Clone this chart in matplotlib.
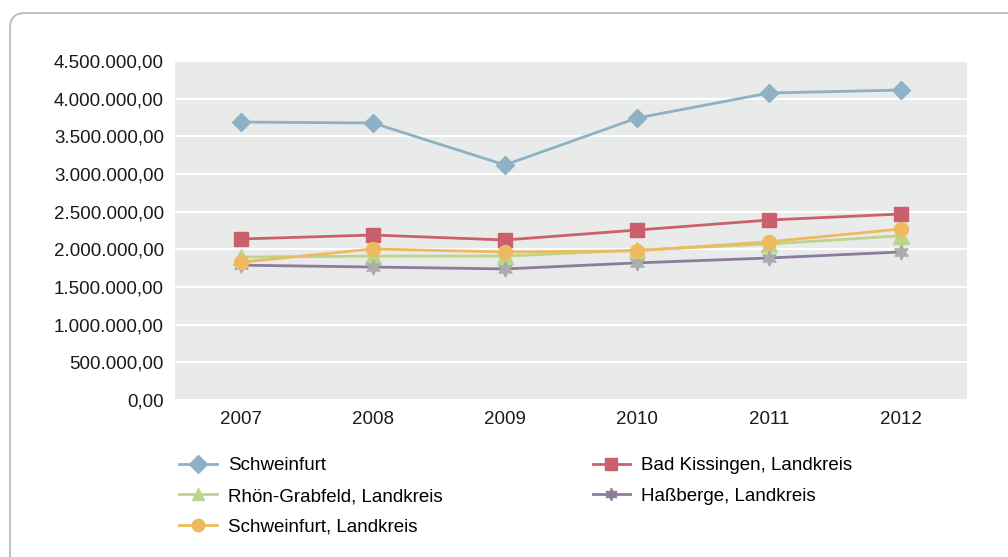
import matplotlib.pyplot as plt
from matplotlib.patches import FancyBboxPatch
from matplotlib.ticker import FuncFormatter
from matplotlib.lines import Line2D

plt.rcParams['font.family'] = ['Liberation Sans', 'DejaVu Sans']

years = [2007, 2008, 2009, 2010, 2011, 2012]
schweinfurt = [3690000, 3677000, 3120000, 3743000, 4075000, 4115000]
bad_kissingen = [2137000, 2190000, 2124000, 2256000, 2389000, 2469000]
rhoen_grabfeld = [1898000, 1910000, 1910000, 1990000, 2070000, 2180000]
schweinfurt_lk = [1830000, 2005000, 1965000, 1980000, 2100000, 2270000]
hassberge = [1790000, 1765000, 1740000, 1820000, 1885000, 1965000]

labels = ['Schweinfurt', 'Bad Kissingen, Landkreis', 'Rhön-Grabfeld, Landkreis',
          'Haßberge, Landkreis', 'Schweinfurt, Landkreis']

fig = plt.figure(figsize=(10.08, 5.57), dpi=100)
ax = fig.add_axes([175 / 1008, 1 - 400 / 557, (967 - 175) / 1008, (400 - 61) / 557])

# rahmen
frame = FancyBboxPatch((10 / 1008, -0.1), 1.2, 1 - 13 / 557 + 0.1,
                       boxstyle='round,pad=0,rounding_size=0.015',
                       transform=fig.transFigure, facecolor='white',
                       edgecolor='#a9b8c2', linewidth=1.2, zorder=-10,
                       mutation_aspect=1008 / 557)
fig.patches.append(frame)

ax.set_facecolor('#e9ebea')
for s in ax.spines.values():
    s.set_visible(False)

x = list(range(len(years)))
l1, = ax.plot(x, schweinfurt, color='#8fb1c5', lw=2, marker='D', ms=9, zorder=3)
l2, = ax.plot(x, bad_kissingen, color='#c9606c', lw=2, marker='s', ms=10, zorder=3)
l3, = ax.plot(x, rhoen_grabfeld, color='#bdd48b', lw=2, marker='^', ms=11, zorder=3)
l5, = ax.plot(x, schweinfurt_lk, color='#edba5f', lw=2, marker='o', ms=10, zorder=4)
l4, = ax.plot(x, hassberge, color='#8d7b9b', lw=2, marker=(6, 1, 0), ms=11,
              mfc='#acacac', mec='#acacac', zorder=3)

ax.set_xlim(-0.5, 5.5)
ax.set_ylim(0, 4500000)
ax.set_yticks(range(0, 4500001, 500000))
ax.yaxis.set_major_formatter(FuncFormatter(
    lambda v, p: f'{v:,.2f}'.replace(',', 'X').replace('.', ',').replace('X', '.')))
ax.set_xticks(x)
ax.set_xticklabels([str(y) for y in years])
ax.tick_params(length=0, labelsize=13.5, pad=8, colors='#1a1a1a')
ax.grid(axis='y', color='white', lw=1.5)
ax.set_axisbelow(True)

handles = [l1, l3, l5, l2, l4]
names = [labels[0], labels[2], labels[4], labels[1], labels[3]]
leg_handles = []
for h in handles:
    leg_handles.append(Line2D([], [], color=h.get_color(), lw=2, marker=h.get_marker(),
                              ms=9, mfc=h.get_color(), mec=h.get_color()))
fig.legend(leg_handles, names, ncol=2, loc='upper left',
           bbox_to_anchor=(168 / 1008, 1 - 446 / 557), frameon=False,
           fontsize=13.5, handlelength=2.0, handletextpad=0.6,
           columnspacing=8.0, labelspacing=0.72, borderpad=0.1)

fig.savefig('out.png', dpi=100)
